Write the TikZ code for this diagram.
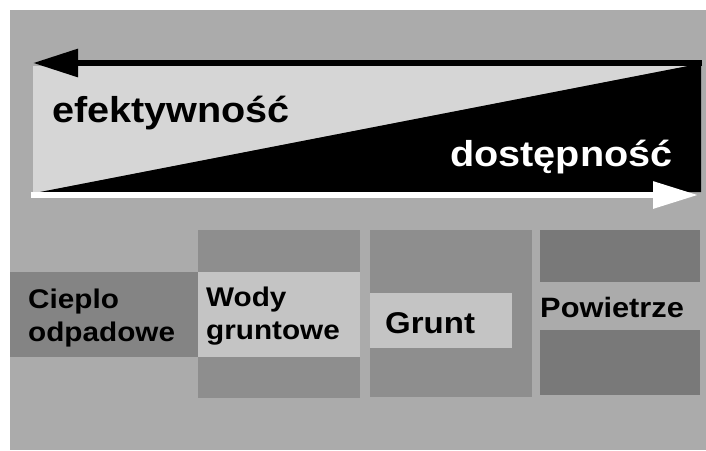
\documentclass[tikz,border=0pt]{standalone}
\usepackage{fontspec}
\setmainfont{Liberation Sans}
\newfontfamily\bandfont[FakeStretch=1.1]{Liberation Sans}
\usetikzlibrary{arrows.meta}
\definecolor{scanbg}{HTML}{ABABAB}
\definecolor{bandlight}{HTML}{D6D6D6}
\definecolor{boxdark}{HTML}{8E8E8E}
\definecolor{boxdarker}{HTML}{797979}
\definecolor{boxlight}{HTML}{C4C4C4}
\definecolor{cieplofill}{HTML}{848484}

\begin{document}
\begin{tikzpicture}[x=1pt, y=-1pt,
    bigtext/.style={font=\bandfont\bfseries\fontsize{36}{36}\selectfont, inner sep=0pt, anchor=base west},
    smalltext/.style={font=\bandfont\bfseries\fontsize{27}{33}\selectfont, inner sep=0pt, align=left}]
        \useasboundingbox (0,0) rectangle (706,450);
        % Background
        \fill[white] (0,0) rectangle (706,450);
        \fill[scanbg] (10,10) rectangle (706,450);

        % Band
        \fill[bandlight] (33,66) -- (688,66) -- (40,192) -- (33,192) -- cycle;
        \fill[black] (40,192) -- (688,66) -- (701,66) -- (701,192) -- cycle;

        % Boxes
        \fill[cieplofill] (10,272) rectangle (198,357);
        \fill[boxdark] (198,230) rectangle (360,272);
        \fill[boxlight] (198,272) rectangle (360,357);
        \fill[boxdark] (198,357) rectangle (360,398);
        \fill[boxdark] (370,230) rectangle (532,397);
        \fill[boxlight] (370,293) rectangle (512,348);
        \fill[boxdarker] (540,230) rectangle (700,282);
        \fill[boxdarker] (540,330) rectangle (700,395);

        % Pieces
        \node[bigtext] (eff) at (52,122) {efektywność};
        \node[bigtext, text=white] (dost) at (450,166) {dostępność};
        \node[smalltext, anchor=north west] (cieplo) at (28,289) {Cieplo\\odpadowe};
        \node[smalltext, anchor=north west] (wody) at (206,287) {Wody\\gruntowe};
        \node[smalltext, anchor=base west, font=\bandfont\bfseries\fontsize{30}{30}\selectfont] (grunt) at (385,333) {Grunt};
        \node[smalltext, anchor=base west, font=\bandfont\bfseries\fontsize{28}{28}\selectfont] (powietrze) at (540,317) {Powietrze};
        \coordinate (effR) at (702,63);
        \coordinate (effL) at (33,63);
        \coordinate (dostL) at (31,195);
        \coordinate (dostR) at (698,195);

        % Arrows
        \draw[-{Triangle[length=45pt, width=27pt]}, line width=6pt] (effR) -- (effL);
        \draw[-{Triangle[length=45pt, width=26pt]}, line width=6pt, white] (dostL) -- (dostR);
\end{tikzpicture}
\end{document}
